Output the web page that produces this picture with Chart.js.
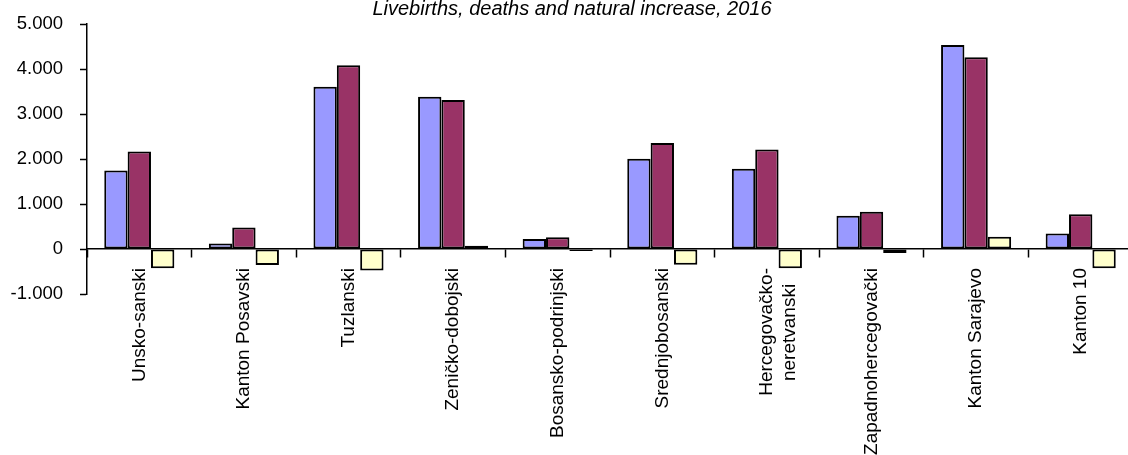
<!DOCTYPE html>
<html>
<head>
<meta charset="utf-8">
<script src="https://cdn.jsdelivr.net/npm/chart.js@4/dist/chart.umd.min.js"></script>
<style>
html, body { margin: 0; padding: 0; background: #fff; overflow: hidden; }
#chart { display: block; margin-top: -4px; }
</style>
</head>
<body>
<canvas id="chart" width="1140" height="459" style="width:1140px;height:459px"></canvas>
<script>
var title_text = "Livebirths, deaths and natural increase, 2016"

var cantons = ["Unsko-sanski", "Kanton Posavski", "Tuzlanski", "Zeničko-dobojski", "Bosansko-podrinjski",
    "Srednjobosanski", ["Hercegovačko-", "neretvanski   "], "Zapadnohercegovački", "Kanton Sarajevo", "Kanton 10"]

var livebirths = [1745, 125, 3610, 3385, 220, 2005, 1785, 740, 4535, 345]
var deaths = [2170, 480, 4085, 3315, 260, 2355, 2215, 830, 4265, 775]
var natural_increase = [-425, -355, -475, 70, -45, -350, -430, -90, 270, -430]

var y_min = -1000
var y_max = 5000
var y_step = 1000

var font_family = "'Liberation Sans', Arial, sans-serif"

// 5000 -> "5.000"
function formatThousands(v){
    var neg = v < 0
    var s = String(Math.abs(v))
    s = s.replace(/\B(?=(\d{3})+(?!\d))/g, ".")
    return (neg ? "-" : "") + s
}

function makeSet(label, data, color){
    return {
        label: label,
        data: data,
        backgroundColor: color,
        borderColor: "#000",
        borderWidth: 2,
        borderSkipped: false,
        categoryPercentage: 0.67,
        barPercentage: 1.0
    }
}

var ctx = document.getElementById("chart").getContext("2d")
var chart = new Chart(ctx, {
    type: "bar",
    data: {
        labels: cantons,
        datasets: [
            makeSet("Livebirths", livebirths, "#9999FF"),
            makeSet("Deaths", deaths, "#993366"),
            makeSet("Natural increase", natural_increase, "#FFFFCC")
        ]
    },
    options: {
        responsive: false,
        animation: false,
        layout: { padding: { left: 11, right: 7, top: 0, bottom: 161 } },
        plugins: {
            legend: { display: false },
            tooltip: { enabled: false },
            title: {
                display: true,
                text: title_text,
                color: "#000",
                font: { family: font_family, size: 20, style: "italic", weight: "normal", lineHeight: 1.2 },
                padding: { top: 0, bottom: 3 }
            }
        },
        scales: {
            x: {
                type: "category",
                position: { y: 0 },
                grid: {
                    offset: true,
                    drawOnChartArea: false,
                    drawTicks: true,
                    tickLength: 8,
                    tickWidth: 1.5,
                    color: "#000"
                },
                border: { display: true, color: "#000", width: 1.5 },
                ticks: {
                    autoSkip: false,
                    maxRotation: 90,
                    minRotation: 90,
                    padding: 11,
                    color: "#000",
                    font: { family: font_family, size: 19 }
                }
            },
            y: {
                min: y_min,
                max: y_max,
                afterFit: function(scale){ scale.width = 76 },
                grid: {
                    drawOnChartArea: false,
                    drawTicks: true,
                    tickLength: 7,
                    tickWidth: 1.5,
                    color: "#000"
                },
                border: { display: true, color: "#000", width: 1.5 },
                ticks: {
                    stepSize: y_step,
                    padding: 17,
                    color: "#000",
                    font: { family: font_family, size: 18.5 },
                    callback: function(v){ return formatThousands(v) }
                }
            }
        }
    }
})
</script>
</body>
</html>
